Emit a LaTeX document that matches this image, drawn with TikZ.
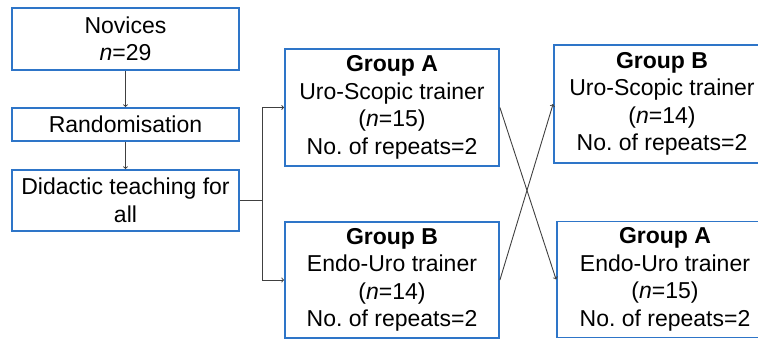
\documentclass[tikz,border=0pt]{standalone}
\usepackage{fontspec}
\setmainfont{Liberation Sans}
\frenchspacing
\definecolor{boxblue}{RGB}{46, 117, 200}
\definecolor{linegray}{RGB}{64, 64, 64}
\usetikzlibrary{calc}
\tikzset{
    arrow/.style={->, draw=linegray, line width=0.9pt},
    line/.style={draw=linegray, line width=0.9pt},
    box/.style = {
      rectangle,
      draw=boxblue,
      line width=1.8pt,
      fill=white,
      inner sep=0pt,
      align=center,
      font=\fontsize{23}{27.5}\selectfont
    },
}

\begin{document}
\begin{tikzpicture}[x=1pt, y=-1pt]
        \useasboundingbox (0,0) rectangle (758,339);

        \node[box, minimum width=227pt, minimum height=62pt] (novices) at (125.5,39) {Novices\\\textit{n}=29};
        \node[box, minimum width=227pt, minimum height=33pt] (random) at (125.5,124.5) {Randomisation};
        \node[box, minimum width=227pt, minimum height=61pt] (didactic) at (125.5,200.5) {Didactic teaching for\\all};

        \node[box, minimum width=214pt, minimum height=117pt] (grpA) at (392,107.5)
          {\textbf{Group A}\\Uro-Scopic trainer\\(\textit{n}=15)\\No. of repeats=2};
        \node[box, minimum width=214pt, minimum height=116pt] (grpB) at (392,280)
          {\textbf{Group B}\\Endo-Uro trainer\\(\textit{n}=14)\\No. of repeats=2};

        \node[box, minimum width=216pt, minimum height=118pt] (grpBx) at (662,104)
          {\textbf{Group B}\\Uro-Scopic trainer\\(\textit{n}=14)\\No. of repeats=2};
        \node[box, minimum width=216pt, minimum height=116pt] (grpAx) at (665,279.5)
          {\textbf{Group A}\\Endo-Uro trainer\\(\textit{n}=15)\\No. of repeats=2};

        \draw[arrow] (novices.south) -- (random.north);
        \draw[arrow] (random.south) -- (didactic.north);

        \coordinate (fork) at ($(didactic.east)+(23,0)$);
        \draw[line] (didactic.east) -- (fork);
        \draw[arrow] (fork) |- (grpA.west);
        \draw[arrow] (fork) |- (grpB.west);

        % crossover
        \draw[arrow] (grpA.east) -- (grpAx.west);
        \draw[arrow] (grpB.east) -- (grpBx.west);
      \end{tikzpicture}
\end{document}
